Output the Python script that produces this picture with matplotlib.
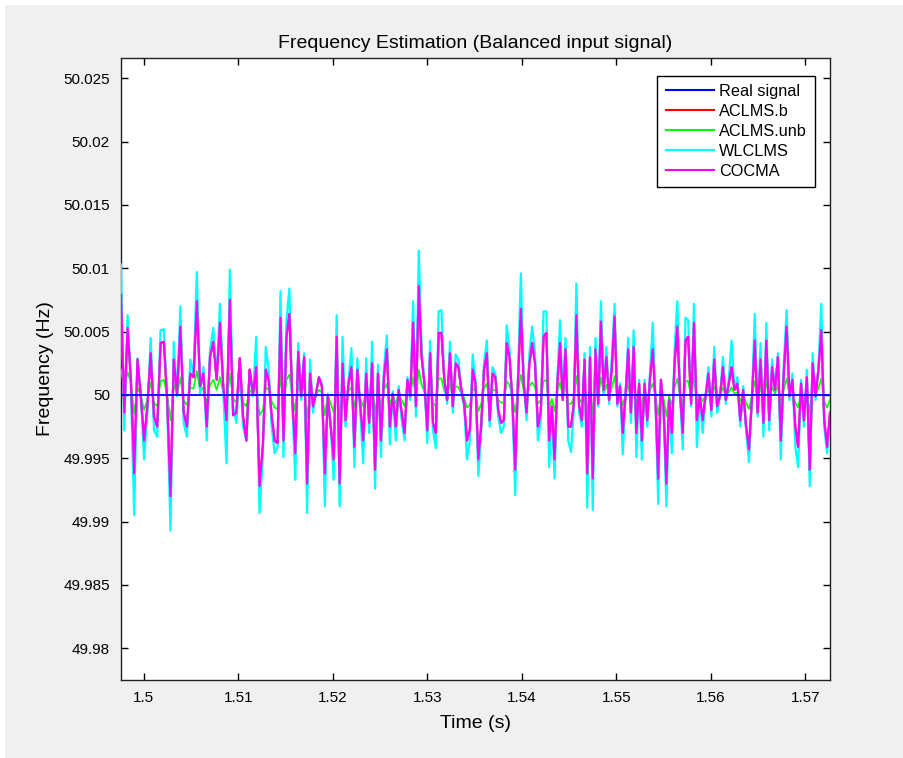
import numpy as np
import matplotlib
matplotlib.use("Agg")
import matplotlib.pyplot as plt
from matplotlib.patches import Rectangle
from matplotlib.ticker import FuncFormatter

plt.rcParams["font.family"] = ["Liberation Sans", "DejaVu Sans"]

# time axis read in 5 equal segments (s); samples spread evenly inside each
seg_edges = [1.4976, 1.5126, 1.5276, 1.5426, 1.5576, 1.5726]
f_nominal = 50.0

# deviations from 50 Hz, in mHz
wlclms = [
    [10.3, -2.8, 6.3, 0.7, -9.5, 2.9, 0.1, -5.1, -1.4, 4.5, -2.8, -3.3, 5.1, 5.2, -0.7,
     -10.7, 4.2, -0.1, 7.0, -2.2, -3.3, 2.8, 1.7, 9.7, 0.1, 2.2, -3.6, 3.6, 5.3, 1.2,
     7.2, 0.4, -5.4, 9.9, -0.9, -2.2, 2.8, -2.5, -3.6, 1.7, -0.1, 4.6, -9.3],
    [-4.9, 3.8, 2.0, -2.5, -4.6, -4.1, 8.2, -4.9, 5.9, 8.4, -0.9, -6.7, 4.1, -0.4, 3.3,
     -9.3, 2.8, -1.4, 0.1, 1.4, 0.9, -8.8, 0.1, -2.5, -6.7, 6.3, -8.8, 4.6, -2.5, 1.2,
     3.7, -5.7, 2.9, -1.4, -5.4, 2.9, -3.0, 4.2, -7.4, 2.4, -4.9, 2.1, 4.7, -3.9, 0.3,
     -3.6, 0.7, -2.0],
    [-3.6, 1.4, -0.4, 7.4, -1.7, 11.4, 3.6, 1.2, -3.8, 4.3, -2.8, -4.2, 6.6, 6.7, 1.2,
     -0.7, 4.2, -1.4, 3.2, 2.8, 0.1, -0.9, -5.1, -3.6, 3.2, 1.2, -6.4, -3.0, 2.5, 4.3,
     -2.5, 2.2, 1.7, -1.7, -3.0, -2.5, 5.5, 3.6, -0.9, -7.9, 1.7, 9.6, 1.2, -2.0, 3.3,
     5.4, 3.3, -3.6, -2.0, 6.6],
    [6.6, -5.7, -1.2, -6.6, 1.2, 5.9, -0.4, 4.5, -3.6, -4.5, -1.4, 8.8, -1.4, -2.5, 3.3,
     -8.9, 3.8, -9.1, 4.5, -0.9, 7.4, 0.1, 3.8, -0.7, 3.0, 7.2, -0.9, 0.9, -4.7, -0.1,
     4.5, -2.2, 5.1, -4.9, 1.2, -5.1, 1.2, -2.5, 1.7, 5.7, -0.4, -8.6, 1.2, -1.4, -8.8,
     -0.4, -4.6, 3.6, 7.4, 0.1, -4.3, 6.1],
    [5.9, -0.9, 7.2, -4.1, -0.1, -3.0, -0.1, 2.2, -1.7, 3.8, -1.4, -0.1, 3.0, -0.7, 1.2,
     4.3, 0.4, 1.4, -2.5, 0.7, -2.8, -5.3, -0.4, 6.4, -1.7, 4.1, -3.3, 5.7, -2.8, 2.8,
     0.4, 3.3, -5.1, 2.2, 6.7, -0.4, 1.7, -4.1, -5.7, 1.2, -2.5, 2.0, -7.2, 3.3, -0.4,
     2.2, 7.2, -2.5, -4.6, -2.0],
]

cocma = [
    [7.9, -1.4, 5.3, 1.2, -6.2, 2.8, -0.1, -3.6, -0.9, 3.3, -1.7, -2.5, 4.1, 4.2, -0.4,
     -8.0, 2.8, 0.1, 5.4, -1.4, -2.5, 1.7, 1.4, 7.4, 0.7, 1.7, -2.5, 3.0, 4.2, 1.2,
     5.7, 0.7, -2.0, 7.5, -1.6, -1.4, 2.9, -1.7, -3.6, 2.0, 0.1, 2.2, -7.2],
    [-4.1, 2.0, 1.2, -1.7, -3.6, -3.8, 6.1, -3.6, 4.6, 6.4, -0.4, -4.6, 3.4, -0.1, 3.0,
     -7.0, 1.7, -0.9, 0.1, 1.4, 0.7, -6.2, -0.1, -2.5, -5.1, 4.6, -7.0, 2.5, -2.0, 0.9,
     2.2, -4.1, 2.0, -0.9, -3.6, 1.7, -2.2, 2.5, -5.9, 1.7, -3.6, 1.4, 3.6, -2.5, 0.1,
     -2.5, 0.4, -1.4],
    [-3.0, 1.2, -0.1, 5.7, -0.9, 8.6, 3.0, 0.9, -2.8, 3.3, -2.2, -3.0, 4.9, 4.9, 1.2,
     -0.4, 3.3, -0.9, 2.5, 2.2, 0.4, -0.7, -3.6, -2.8, 2.0, 0.9, -5.1, -2.5, 2.0, 3.3,
     -2.0, 1.7, 1.4, -1.2, -2.2, -2.0, 4.1, 3.0, -0.4, -5.9, 1.2, 6.8, 0.9, -1.4, 2.5,
     4.1, 2.5, -2.5, -1.4, 4.6],
    [4.9, -3.6, -0.9, -5.1, 0.9, 4.1, -0.4, 3.6, -2.5, -2.5, -0.9, 6.3, -0.9, -2.0, 2.8,
     -6.2, 3.0, -6.6, 3.6, -0.7, 5.8, 0.4, 3.0, -0.4, 2.2, 6.2, -0.7, 0.7, -3.0, -0.1,
     3.6, -1.4, 3.8, -3.0, 0.9, -3.6, 0.9, -2.0, 1.4, 3.6, -0.4, -6.6, 1.2, -1.2, -7.0,
     -0.4, -3.0, 2.5, 5.4, 0.1, -3.0, 4.3],
    [4.6, -0.7, 5.7, -2.0, -0.1, -2.0, -0.1, 1.7, -1.2, 2.8, -0.9, -0.1, 2.2, -0.4, 0.9,
     2.2, 0.4, 0.9, -2.0, 0.4, -2.5, -4.3, -0.4, 4.3, -1.4, 2.8, -2.2, 4.3, -2.0, 2.2,
     0.4, 3.0, -3.6, 1.7, 5.4, -0.1, 1.2, -2.5, -4.1, 0.9, -2.0, 1.4, -5.9, 2.5, -0.1,
     2.0, 5.1, -2.0, -4.1, -1.4],
]

# ACLMS.b gives the same estimate as COCMA here and is hidden beneath it
aclms_b = cocma

aclms_unb = [
    [2.0, 0.5, 1.8, 1.0, -1.5, 0.6, 0.0, -1.2, -0.4, 1.0, -0.6, -0.9, 1.1, 1.2, 0.0,
     -2.0, 0.8, 0.0, 1.4, -0.4, -0.8, 0.6, 0.5, 1.9, 0.3, 0.6, -0.7, 0.8, 1.2, 0.4,
     1.4, 0.2, -0.8, 1.7, -0.3, -0.6, 0.7, -0.6, -0.9, 0.4, 0.0, 0.8, -1.6],
    [-1.2, 0.6, 0.4, -0.5, -1.0, -1.1, 1.5, -1.0, 1.2, 1.6, -0.1, -1.3, 0.9, 0.0, 0.8,
     -1.8, 0.4, -0.3, 0.0, 0.4, 0.2, -1.6, 0.0, -0.7, -1.4, 1.0, -1.7, 0.6, -0.6, 0.3,
     0.6, -1.0, 0.5, -0.3, -0.9, 0.5, -0.5, 0.7, -1.4, 0.4, -0.9, 0.4, 0.9, -0.7, 0.0,
     -0.7, 0.1, -0.4],
    [-0.9, 0.3, 0.0, 1.4, -0.3, 2.0, 0.8, 0.3, -0.8, 0.9, -0.6, -0.9, 1.3, 1.3, 0.3,
     -0.1, 0.9, -0.3, 0.7, 0.6, 0.1, -0.2, -1.0, -0.8, 0.5, 0.3, -1.3, -0.7, 0.5, 0.9,
     -0.6, 0.4, 0.4, -0.4, -0.6, -0.6, 1.1, 0.8, -0.1, -1.4, 0.3, 1.6, 0.3, -0.4, 0.7,
     1.0, 0.6, -0.7, -0.4, 1.1],
    [1.2, -1.0, -0.3, -1.3, 0.3, 1.0, -0.1, 0.9, -0.7, -0.7, -0.3, 1.5, -0.3, -0.6, 0.7,
     -1.5, 0.8, -1.6, 0.9, -0.2, 1.4, 0.1, 0.8, -0.1, 0.6, 1.5, -0.2, 0.2, -0.8, 0.0,
     0.9, -0.4, 1.0, -0.8, 0.3, -0.9, 0.3, -0.5, 0.4, 0.9, -0.1, -1.6, 0.3, -0.3, -1.7,
     -0.1, -0.8, 0.6, 1.3, 0.0, -0.8, 1.1],
    [1.1, -0.2, 1.4, -0.5, 0.0, -0.5, 0.0, 0.4, -0.3, 0.7, -0.2, 0.0, 0.6, -0.1, 0.2,
     0.6, 0.1, 0.2, -0.5, 0.1, -0.6, -1.1, -0.1, 1.1, -0.4, 0.7, -0.6, 1.1, -0.5, 0.6,
     0.1, 0.8, -0.9, 0.4, 1.3, 0.0, 0.3, -0.6, -1.0, 0.2, -0.5, 0.4, -1.4, 0.6, 0.0,
     0.5, 1.3, -0.5, -1.0, -0.4],
]

y_ticks = [49.98, 49.985, 49.99, 49.995, 50.0, 50.005, 50.01, 50.015, 50.02, 50.025]
x_ticks = [1.5, 1.51, 1.52, 1.53, 1.54, 1.55, 1.56, 1.57]


def to_series(segments):
    t_parts, f_parts = [], []
    last = len(segments) - 1
    for i, seg in enumerate(segments):
        t_parts.append(np.linspace(seg_edges[i], seg_edges[i + 1], len(seg),
                                   endpoint=(i == last)))
        f_parts.append(f_nominal + np.asarray(seg) / 1000.0)
    return np.concatenate(t_parts), np.concatenate(f_parts)


def matlab_fmt(v, _pos):
    return f"{v:.3f}".rstrip("0").rstrip(".")


fig = plt.figure(figsize=(9.04, 7.58), dpi=100, facecolor="white")
# grey MATLAB figure area, leaving a thin white margin top and left
fig.patches.append(Rectangle((5 / 904, 0), 1, 1 - 5 / 758, transform=fig.transFigure,
                             facecolor="#f0f0f0", edgecolor="none", zorder=-10))

ax = fig.add_axes([121 / 904, 1 - 680 / 758, 709 / 904, 622 / 758])
ax.set_facecolor("white")

t_all, _ = to_series(wlclms)
ax.plot([t_all[0], t_all[-1]], [f_nominal, f_nominal], color="#0000ff", lw=1.3,
        label="Real signal", zorder=10)
t, f = to_series(aclms_b)
ax.plot(t, f, color="#ff0000", lw=1.6, label="ACLMS.b", zorder=3)
t, f = to_series(aclms_unb)
ax.plot(t, f, color="#00ff00", lw=1.2, label="ACLMS.unb", zorder=4)
t, f = to_series(wlclms)
ax.plot(t, f, color="#00ffff", lw=1.6, label="WLCLMS", zorder=5)
t, f = to_series(cocma)
ax.plot(t, f, color="#ff00ff", lw=1.6, label="COCMA", zorder=6)

ax.set_xlim(seg_edges[0], seg_edges[-1])
ax.set_ylim(49.9775, 50.0266)
ax.set_xticks(x_ticks)
ax.set_yticks(y_ticks)
ax.xaxis.set_major_formatter(FuncFormatter(matlab_fmt))
ax.yaxis.set_major_formatter(FuncFormatter(matlab_fmt))
ax.tick_params(direction="in", length=5, width=1, top=True, right=True,
               labelsize=11, colors="black", pad=8)
for sp in ax.spines.values():
    sp.set_linewidth(1.0)
    sp.set_color("#222222")

ax.set_title("Frequency Estimation (Balanced input signal)", fontsize=14, pad=7)
ax.set_xlabel("Time (s)", fontsize=14, labelpad=7)
ax.set_ylabel("Frequency (Hz)", fontsize=14, labelpad=7)

leg = ax.legend(loc="upper right", bbox_to_anchor=(0.979, 0.971), fontsize=11.7,
                frameon=True, fancybox=False, framealpha=1, edgecolor="black",
                handlelength=3.0, handletextpad=0.3, labelspacing=0.3,
                borderpad=0.5, borderaxespad=0)
leg.get_frame().set_linewidth(1.0)
for line in leg.get_lines():
    line.set_linewidth(1.5)

fig.savefig("out.png", dpi=100, facecolor=fig.get_facecolor())
